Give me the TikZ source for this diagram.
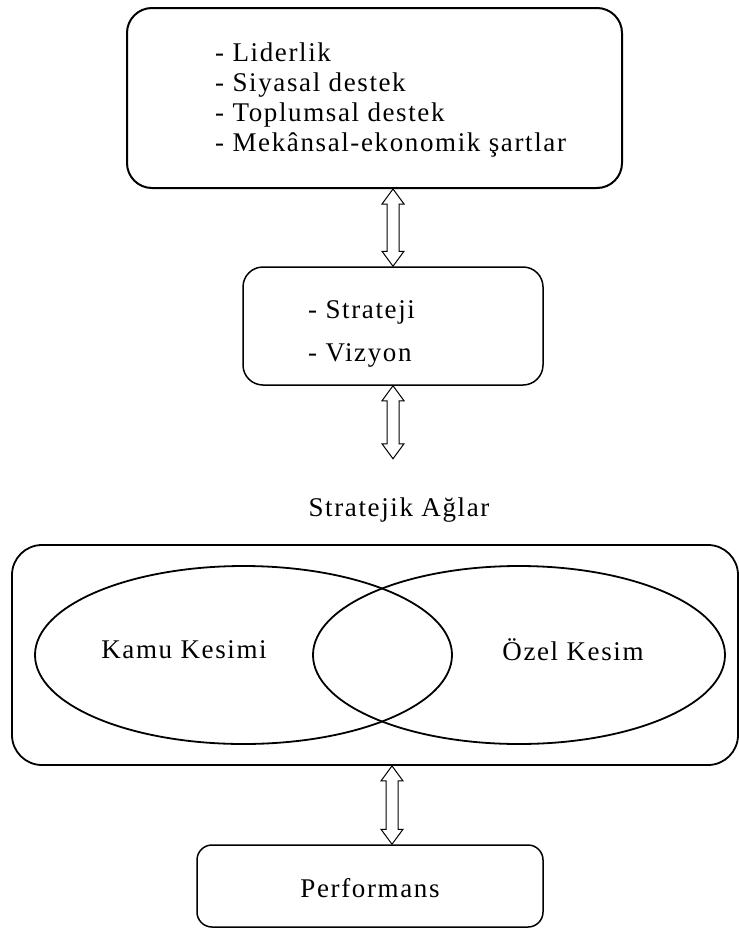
\documentclass[tikz,border=0pt]{standalone}
\usepackage{fontspec}
\setmainfont[LetterSpace=6]{Liberation Serif}
\usepackage{tikz}
\usetikzlibrary{calc,shapes.geometric}
\def\ikiyon(#1)(#2){\draw[fill=white, line width=1pt] (#1) -- ++(-11,-15) -- ++(5,0) -- ($(#2)+(-6,15)$) -- ++(-5,0) -- (#2) -- ++(11,15) -- ++(-5,0) -- ($(#1)+(6,-15)$) -- ++(5,0) -- cycle;}
\tikzset{
	kutu/.style={draw, rounded corners=#1, inner sep=0pt, line width=1.5pt},
	yazi/.style={inner sep=0pt, font=\fontsize{27}{30}\selectfont},
	kume/.style={ellipse, draw, line width=1.8pt, inner sep=0pt}
}

\begin{document}
\begin{tikzpicture}[x=1pt, y=1pt]
			%%%%% START %%%%%
			\useasboundingbox (0, 0) rectangle (739, -932);
			
			\node[kutu=25pt, line width=2pt, minimum width=495pt, minimum height=180pt] (etken) at (374.5, -98) {};
			\node[yazi, align=left, anchor=west] at (215, -100) {- Liderlik\\- Siyasal destek\\- Toplumsal destek\\- Mekânsal-ekonomik şartlar};
			
			\node[kutu=20pt, minimum width=300pt, minimum height=118pt] (orta) at (393, -326) {};
			\node[yazi, font=\fontsize{27}{43}\selectfont, align=left, anchor=west] at (308, -333.5) {- Strateji\\- Vizyon};
			
			\node[yazi] (aglar) at (399, -510) {Stratejik Ağlar};
			\coordinate (agucu) at ($(orta.south)+(0,-73)$);
			
			\node[kutu=30pt, line width=1.8pt, minimum width=726pt, minimum height=220pt] (buyuk) at (375, -655) {};
			\node[kume, minimum width=417pt, minimum height=178pt] (kamu) at (243.5, -655) {};
			\node[kume, minimum width=412pt, minimum height=178pt] (ozel) at (519, -655) {};
			\node[yazi] at (184, -650) {Kamu Kesimi};
			\node[yazi] at (573, -650) {Özel Kesim};
			
			\node[kutu=15pt, minimum width=346pt, minimum height=82pt] (perf) at (370, -886) {};
			\node[yazi] at (370, -888) {Performans};
			\coordinate (perfucu) at ($(perf.north)+(22,0)$);
			\coordinate (buyukucu) at (perfucu |- buyuk.south);
			
			\ikiyon(etken.south -| orta.north)(orta.north);
			\ikiyon(orta.south)(agucu);
			\ikiyon(buyukucu)(perfucu);
			%%%%% END %%%%%
		\end{tikzpicture}
\end{document}
